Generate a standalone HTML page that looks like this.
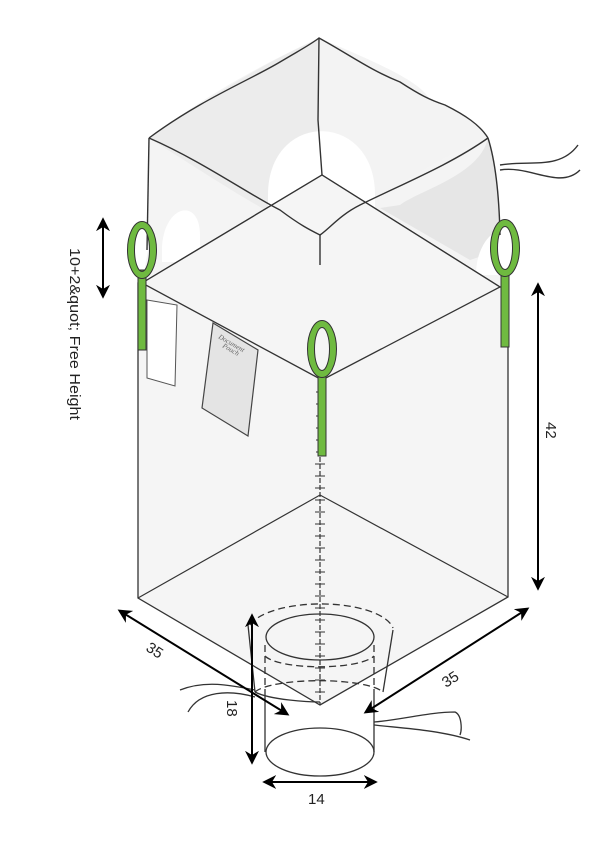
<!DOCTYPE html>
<html><head><meta charset="utf-8"><style>html,body{margin:0;padding:0;background:#fff}svg{display:block}</style></head>
<body>
<svg width="615" height="856" viewBox="0 0 615 856" xmlns="http://www.w3.org/2000/svg" font-family="Liberation Sans, sans-serif">
<defs>
<marker id="ah" viewBox="0 0 10 10" refX="8" refY="5" markerWidth="7" markerHeight="7" orient="auto-start-reverse"><path d="M0,0 L10,5 L0,10 L3,5 z" fill="#000"/></marker>
</defs>
<path d="M149,138 C200,100 250,70 319,38 C370,60 420,80 430,100 C460,110 480,125 488,138 C495,160 500,190 500,230 L500,285 L322,380 L142,283 L148,250 Z" fill="#f4f4f4"/>
<path d="M149,138 C200,170 260,210 300,228 L320,235 L320,38 C270,60 220,90 149,138 Z" fill="#ececec"/>
<path d="M488,138 C430,160 380,200 340,220 L320,235 L319,38 C370,60 420,80 430,100 C460,110 480,125 488,138Z" fill="#f3f3f3"/>
<path d="M488,138 C480,175 420,190 400,205 L380,208 L470,260 L500,250 C500,200 498,170 488,138Z" fill="#e6e6e6"/>
<path d="M268,195 C268,110 375,110 375,195 L375,215 L268,215Z" fill="#fff"/>
<path d="M162,255 C160,205 200,195 200,235 L200,262 L162,262Z" fill="#fff"/>
<path d="M476,275 C476,240 500,225 500,235 L500,275Z" fill="#fff"/>
<g fill="none" stroke="#333" stroke-width="1.4">
<path d="M149,138 C200,100 250,80 280,62 C300,50 310,45 319,38 C350,55 370,70 400,82 C420,95 430,100 445,105 C465,115 480,125 488,138"/>
<path d="M319,38 L318,120 L322,175"/>
<path d="M149,138 L147,250"/>
<path d="M488,138 C495,160 499,190 500,235"/>
<path d="M500,165 C530,160 560,170 578,145 M500,170 C530,165 560,190 580,170"/>
</g>
<!-- body -->
<path d="M142,283 L322,175 L500,287 L508,287 L508,597 L320,705 L138,598 L138,283Z" fill="#f5f5f5" stroke="#333" stroke-width="1.3"/>
<path d="M142,283 L322,175 L500,287 L322,380 Z" fill="#f5f5f5" fill-opacity="0.6" stroke="#333" stroke-width="1.3"/>
<g fill="none" stroke="#333" stroke-width="1.4">
<path d="M149,138 C200,160 250,195 280,210 C300,225 310,230 320,235 C330,228 340,215 360,205 C400,185 450,165 488,138"/>
<path d="M320,235 L320,265"/>
</g>
<path d="M138,598 L320,495 L508,597" fill="none" stroke="#333" stroke-width="1.2"/>
<path d="M147,300 L177,305 L175,386 L147,378Z" fill="#fff" stroke="#555" stroke-width="1"/>
<path d="M213,323 L258,350 L248,436 L202,408Z" fill="#e4e4e4" stroke="#444" stroke-width="1.2"/>
<text font-family="Liberation Serif, serif" font-style="italic" font-size="7" fill="#666" transform="translate(218,338) rotate(30)">Document</text>
<text font-family="Liberation Serif, serif" font-style="italic" font-size="7" fill="#666" transform="translate(222,347) rotate(30)">Pouch</text>
<line x1="320" y1="380" x2="320" y2="705" stroke="#333" stroke-width="1.2" stroke-dasharray="5,2"/>
<path d="M316,392 h4 M316,404 h4 M316,416 h4 M316,428 h4 M316,440 h4 M316,452 h4 M315,464 h10 M315,476 h10 M315,488 h10 M315,500 h10 M315,512 h10 M315,524 h10 M315,536 h10 M315,548 h10 M315,560 h10 M315,572 h10 M315,584 h10 M315,596 h10 M315,608 h10 M315,620 h10 M315,632 h10 M315,644 h10 M315,656 h10 M315,668 h10 M315,680 h10 M315,692 h10" stroke="#333" stroke-width="1"/>
<g fill="none" stroke="#333" stroke-width="1">
<rect x="138" y="270" width="8" height="80" fill="#6fba40"/>
<ellipse cx="142" cy="250" rx="11" ry="25" stroke="#6fba40" stroke-width="7"/>
<ellipse cx="142" cy="250" rx="14.5" ry="28.5"/><ellipse cx="142" cy="250" rx="7.5" ry="21.5"/>
<rect x="501" y="272" width="8" height="75" fill="#6fba40"/>
<ellipse cx="505" cy="248" rx="11" ry="25" stroke="#6fba40" stroke-width="7"/>
<ellipse cx="505" cy="248" rx="14.5" ry="28.5"/><ellipse cx="505" cy="248" rx="7.5" ry="21.5"/>
<rect x="318" y="372" width="8" height="84" fill="#6fba40"/>
<ellipse cx="322" cy="349" rx="11" ry="25" stroke="#6fba40" stroke-width="7"/>
<ellipse cx="322" cy="349" rx="14.5" ry="28.5"/><ellipse cx="322" cy="349" rx="7.5" ry="21.5"/>
</g>
<g fill="none" stroke="#333" stroke-width="1.3">
<path d="M248,625 L255,692 M393,630 L383,692"/>
<path d="M250,625 A73,28 0 0 1 393,628" stroke-dasharray="7,4"/>
<path d="M265,645 L265,690 M374,645 L374,690" stroke-dasharray="7,4"/>
<path d="M255,692 A66,15 0 0 1 383,692" stroke-dasharray="7,4"/>
<path d="M265,656 A56,14 0 0 0 374,656" stroke-dasharray="7,4"/>
<ellipse cx="320" cy="637" rx="54" ry="23"/>
<path d="M265,690 L265,752 M374,690 L374,752"/>
<ellipse cx="320" cy="752" rx="54" ry="24"/>
<path d="M255,692 C270,700 310,702 320,702"/>
<path d="M180,690 C205,680 230,685 255,690 M188,712 C200,690 230,690 255,697"/>
<path d="M374,722 C400,720 430,712 455,712 C462,715 462,730 460,735 M374,725 C400,728 440,730 470,740"/>
</g>
<g stroke="#000" stroke-width="2" fill="none" marker-start="url(#ah)" marker-end="url(#ah)">
<line x1="103" y1="220" x2="103" y2="296"/>
<line x1="538" y1="285" x2="538" y2="588"/>
<line x1="120" y1="611" x2="287" y2="714"/>
<line x1="527" y1="609" x2="366" y2="712"/>
<line x1="252" y1="616" x2="252" y2="762"/>
<line x1="265" y1="782" x2="375" y2="782"/>
</g>
<g font-size="15" fill="#222">
<text transform="translate(70,248) rotate(90)" textLength="172" lengthAdjust="spacingAndGlyphs">10+2&amp;quot; Free Height</text>
<text transform="translate(546,422) rotate(90)">42</text>
<text transform="translate(145,650) rotate(33)">35</text>
<text transform="translate(446,688) rotate(-33)">35</text>
<text transform="translate(227,700) rotate(90)">18</text>
<text x="308" y="804">14</text>
</g>
</svg>
</body></html>
